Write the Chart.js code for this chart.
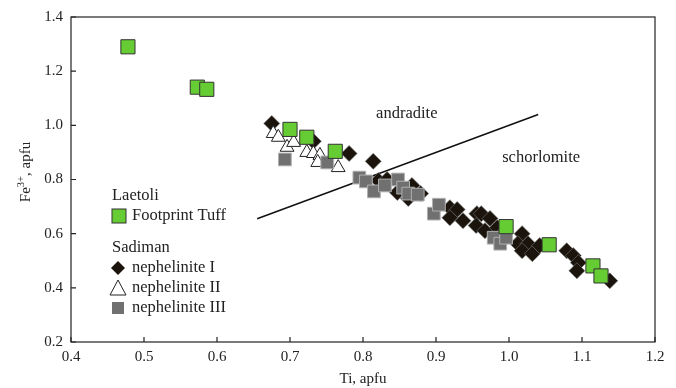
<!DOCTYPE html>
<html><head><meta charset="utf-8">
<script src="https://cdn.jsdelivr.net/npm/chart.js@4/dist/chart.umd.min.js"></script>
<style>html,body{margin:0;padding:0;background:#fff}#wrap{width:676px;height:388px}</style>
</head><body><div id="wrap"><canvas id="c" width="676" height="388"></canvas></div>
<script>
const xTicks = [0.4,0.5,0.6,0.7,0.8,0.9,1.0,1.1,1.2];
const yTicks = [0.2,0.4,0.6,0.8,1.0,1.2,1.4];
const footprintTuff = [[0.478,1.29],[0.573,1.141],[0.586,1.133],[0.700,0.985],[0.723,0.956],[0.762,0.904],[0.996,0.626],[1.055,0.559],[1.115,0.481],[1.126,0.444]];
const nephI = [[0.675,1.007],[0.732,0.941],[0.781,0.896],[0.814,0.867],[0.821,0.796],[0.833,0.800],[0.847,0.752],[0.867,0.778],[0.879,0.748],[0.862,0.730],[0.919,0.696],[0.929,0.689],[0.919,0.659],[0.937,0.648],[0.956,0.674],[0.962,0.674],[0.955,0.630],[0.967,0.611],[0.974,0.656],[0.984,0.622],[0.993,0.604],[1.018,0.600],[1.012,0.563],[1.026,0.563],[1.018,0.537],[1.032,0.526],[1.042,0.556],[1.079,0.537],[1.088,0.519],[1.095,0.493],[1.093,0.463],[1.138,0.426]];
const nephII = [[0.677,0.970],[0.684,0.956],[0.696,0.919],[0.705,0.937],[0.723,0.900],[0.732,0.896],[0.741,0.889],[0.738,0.863],[0.766,0.844]];
const nephIII = [[0.693,0.874],[0.751,0.863],[0.795,0.807],[0.804,0.793],[0.815,0.756],[0.830,0.778],[0.848,0.800],[0.855,0.770],[0.862,0.748],[0.875,0.744],[0.897,0.674],[0.904,0.707],[0.979,0.585],[0.988,0.563],[0.996,0.585]];
const boundary = [[0.655,0.655],[1.04,1.04]];
const fieldLabels = [{text:'andradite',x:0.86,y:1.044},{text:'schorlomite',x:1.044,y:0.881}];

const pts = a => a.map(p => ({x:p[0], y:p[1]}));
const FONT = "'Liberation Serif','Times New Roman',serif";

const framePlugin = {
  id:'frame',
  afterDatasetsDraw(chart){
    const {ctx, chartArea:a, scales:{x,y}} = chart;
    ctx.save();
    ctx.strokeStyle='#222'; ctx.lineWidth=1.2;
    ctx.strokeRect(a.left, a.top, a.right-a.left, a.bottom-a.top);
    ctx.beginPath();
    xTicks.forEach(v=>{const px=x.getPixelForValue(v); ctx.moveTo(px,a.bottom); ctx.lineTo(px,a.bottom-5);});
    yTicks.forEach(v=>{const py=y.getPixelForValue(v); ctx.moveTo(a.left,py); ctx.lineTo(a.left+5,py);});
    ctx.stroke();
    ctx.fillStyle='#222'; ctx.font='16.5px '+FONT; ctx.textAlign='center'; ctx.textBaseline='middle';
    fieldLabels.forEach(l=>ctx.fillText(l.text, x.getPixelForValue(l.x), y.getPixelForValue(l.y)));
    // legend text
    ctx.textAlign='left';
    ctx.fillText('Laetoli',112,196);
    ctx.fillText('Footprint Tuff',132,216);
    ctx.fillText('Sadiman',112,248);
    ctx.fillText('nephelinite I',132,268);
    ctx.fillText('nephelinite II',132,288);
    ctx.fillText('nephelinite III',132,308);
    // y-axis title with superscript
    ctx.translate(26,172); ctx.rotate(-Math.PI/2);
    const big='15px '+FONT, small='10.5px '+FONT;
    ctx.font=big; const w1=ctx.measureText('Fe').width, w3=ctx.measureText(', apfu').width;
    ctx.font=small; const w2=ctx.measureText('3+').width;
    let sx=-(w1+w2+w3)/2;
    ctx.textAlign='left'; ctx.textBaseline='middle';
    ctx.font=big; ctx.fillText('Fe',sx,0); sx+=w1;
    ctx.font=small; ctx.fillText('3+',sx,-5); sx+=w2;
    ctx.font=big; ctx.fillText(', apfu',sx,0);
    ctx.restore();
  }
};

const legendMarks = {
  id:'legmarks',
  afterDraw(chart){
    const ctx=chart.ctx;
    ctx.save();
    ctx.fillStyle='#66cc33'; ctx.strokeStyle='#333'; ctx.lineWidth=1;
    ctx.fillRect(112,209,14,14); ctx.strokeRect(112,209,14,14);
    ctx.fillStyle='#1a140c';
    ctx.beginPath(); ctx.moveTo(118,261); ctx.lineTo(125,268); ctx.lineTo(118,275); ctx.lineTo(111,268); ctx.closePath(); ctx.fill();
    ctx.fillStyle='#fff'; ctx.strokeStyle='#222'; ctx.lineWidth=1;
    ctx.beginPath(); ctx.moveTo(118,280); ctx.lineTo(126,295); ctx.lineTo(110,295); ctx.closePath(); ctx.fill(); ctx.stroke();
    ctx.fillStyle='#707070';
    ctx.fillRect(112,302,12,12);
    ctx.restore();
  }
};

new Chart(document.getElementById('c'), {
  type:'scatter',
  data:{datasets:[
    {label:'Footprint Tuff', data:pts(footprintTuff), pointStyle:'rect', pointRadius:10, backgroundColor:'#66cc33', borderColor:'#333', borderWidth:1},
    {label:'nephelinite III', data:pts(nephIII), pointStyle:'rect', pointRadius:9, backgroundColor:'#707070', borderColor:'#b0b0b0', borderWidth:1},
    {label:'nephelinite II', data:pts(nephII), pointStyle:'triangle', pointRadius:8, backgroundColor:'#fff', borderColor:'#222', borderWidth:1},
    {label:'nephelinite I', data:pts(nephI), pointStyle:'rectRot', pointRadius:8, backgroundColor:'#1a140c', borderColor:'#777', borderWidth:0.6},
    {type:'line', label:'boundary', data:pts(boundary), showLine:true, pointRadius:0, borderColor:'#111', borderWidth:1.5, fill:false}
  ]},
  options:{
    responsive:false, animation:false, maintainAspectRatio:false,
    layout:{padding:{top:17,right:21,left:0,bottom:0}},
    plugins:{legend:{display:false}, tooltip:{enabled:false}},
    scales:{
      x:{type:'linear', min:0.4, max:1.2,
        afterBuildTicks:s=>{s.ticks=xTicks.map(v=>({value:v}));},
        afterFit:s=>{s.height=46;},
        grid:{display:false, drawTicks:false}, border:{display:false},
        ticks:{padding:6, color:'#222', font:{family:FONT,size:15}, callback:v=>v.toFixed(1), maxRotation:0},
        title:{display:true, text:'Ti, apfu', color:'#222', font:{family:FONT,size:15}, padding:{top:2,bottom:0}}
      },
      y:{type:'linear', min:0.2, max:1.4,
        afterBuildTicks:s=>{s.ticks=yTicks.map(v=>({value:v}));},
        afterFit:s=>{s.width=71;},
        grid:{display:false, drawTicks:false}, border:{display:false},
        ticks:{padding:8, color:'#222', font:{family:FONT,size:15}, callback:v=>v.toFixed(1)},
        title:{display:false}
      }
    }
  },
  plugins:[framePlugin, legendMarks]
});
</script></body></html>
